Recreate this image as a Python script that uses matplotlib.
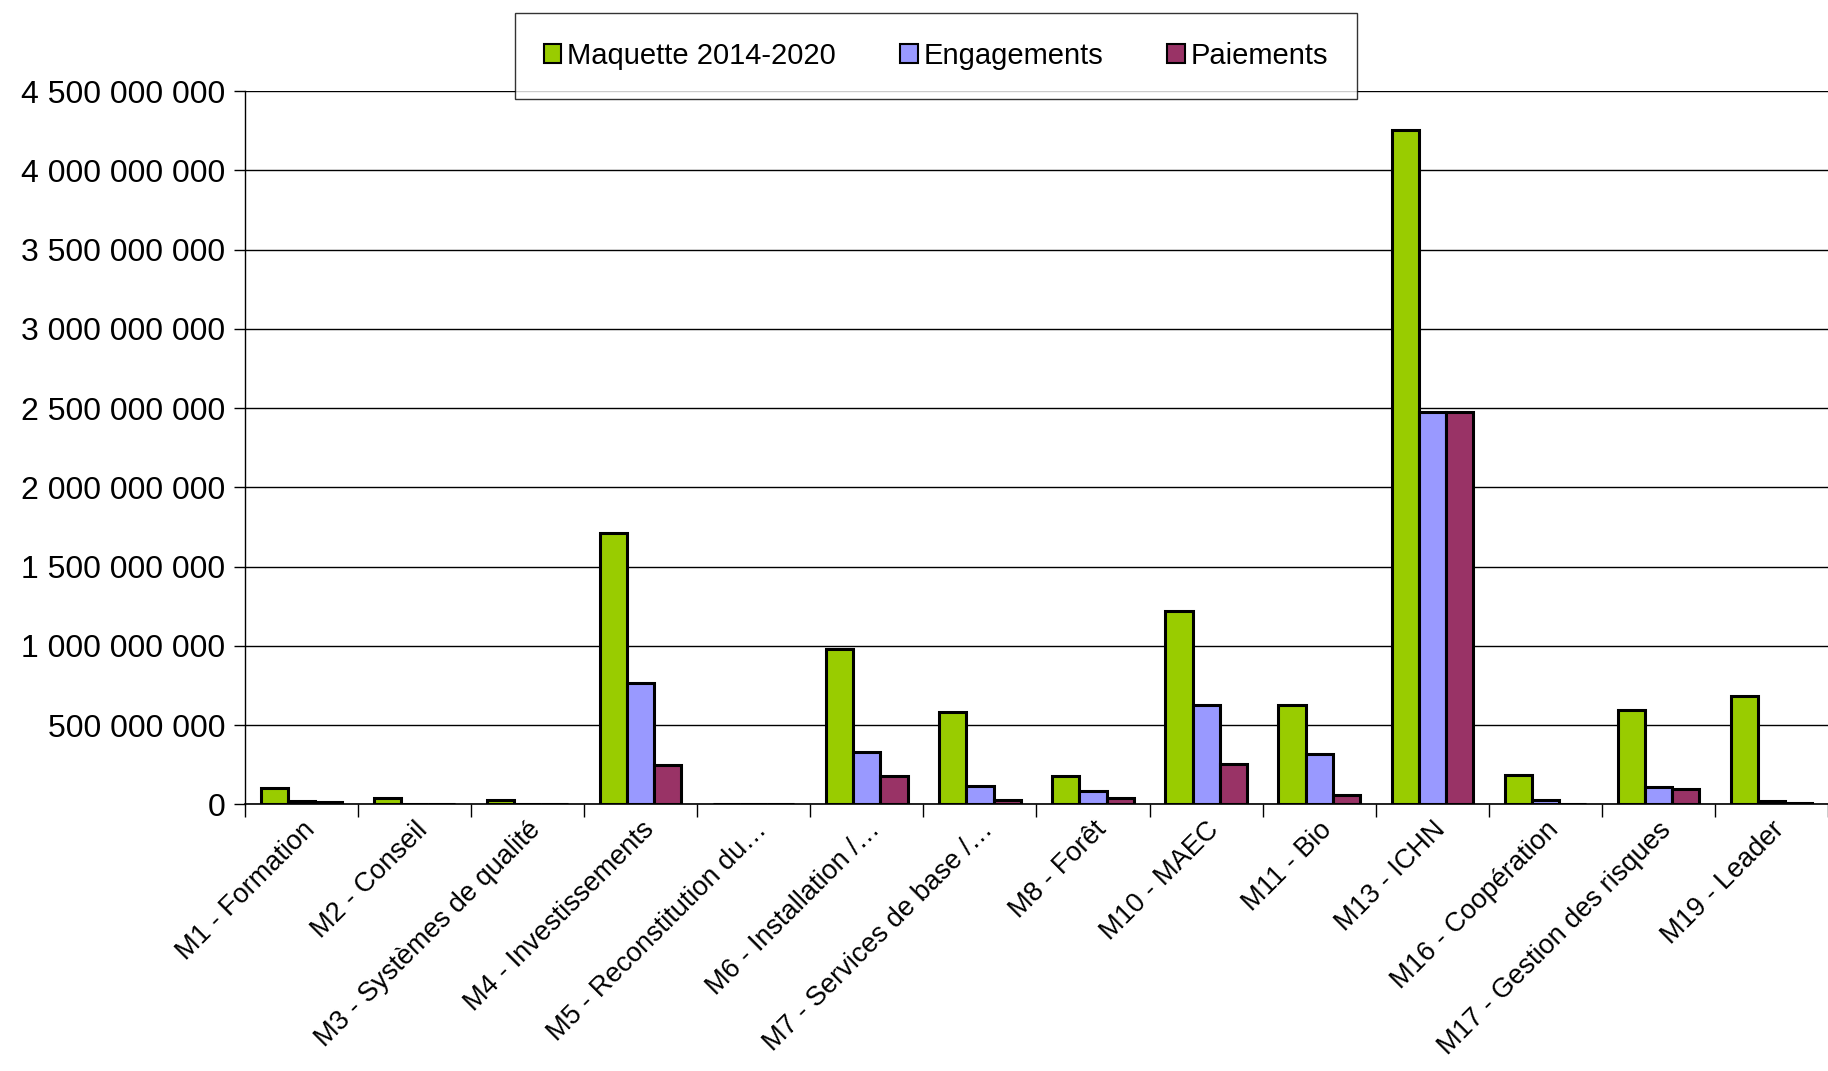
import numpy as np
import matplotlib.pyplot as plt
from matplotlib.ticker import FuncFormatter, FixedLocator

plt.rcParams['font.family'] = ['Liberation Sans', 'DejaVu Sans']

categories = ['M1 - Formation', 'M2 - Conseil', 'M3 - Systèmes de qualité',
              'M4 - Investissements', 'M5 - Reconstitution du…',
              'M6 - Installation /…', 'M7 - Services de base /…',
              'M8 - Forêt', 'M10 - MAEC', 'M11 - Bio', 'M13 - ICHN',
              'M16 - Coopération', 'M17 - Gestion des risques', 'M19 - Leader']

# valeurs en euros
maquette = [103e6, 40e6, 30e6, 1713e6, 3e6, 978e6, 581e6, 176e6,
            1220e6, 625e6, 4255e6, 184e6, 596e6, 684e6]
engagements = [22e6, 0, 5e6, 765e6, 3e6, 331e6, 118e6, 81e6,
               625e6, 316e6, 2478e6, 30e6, 110e6, 22e6]
paiements = [13e6, 0, 5e6, 250e6, 3e6, 176e6, 30e6, 37e6,
             257e6, 59e6, 2478e6, 5e6, 96e6, 8e6]

series = [('Maquette 2014-2020', maquette, '#99CC00'),
          ('Engagements', engagements, '#9999FF'),
          ('Paiements', paiements, '#993366')]

fig = plt.figure(figsize=(18.28, 10.71), dpi=100)
ax = fig.add_axes([0.134, 0.249, 0.866, 0.666])

x = np.arange(len(categories))
w = 0.24
for i, (name, vals, col) in enumerate(series):
    ax.bar(x + (i - 1) * w, vals, w, color=col, edgecolor='black',
           linewidth=2.2, label=name, zorder=3)

ax.set_xlim(-0.5, len(categories) - 0.5)
ax.set_ylim(0, 4.5e9)
ax.set_yticks(np.arange(0, 4.5e9 + 1, 5e8))
ax.yaxis.set_major_formatter(FuncFormatter(lambda v, p: f"{int(v):,}".replace(',', ' ')))
ax.grid(axis='y', color='black', linewidth=1, zorder=0)

ax.set_xticks(x)
ax.set_xticklabels(categories, rotation=45, ha='right', rotation_mode='anchor',
                   fontsize=19.5)
ax.xaxis.set_minor_locator(FixedLocator(np.arange(-0.5, len(categories), 1)))
ax.tick_params(axis='x', which='major', length=0, pad=9)
ax.tick_params(axis='x', which='minor', length=9, width=1, direction='out')
ax.tick_params(axis='y', length=8, width=1, labelsize=23, pad=6)

for s in ['top', 'right']:
    ax.spines[s].set_visible(False)
ax.spines['left'].set_linewidth(1)
ax.spines['bottom'].set_linewidth(1.2)

leg = fig.legend(loc='center', bbox_to_anchor=(0.512, 0.948), ncol=3,
                 fontsize=21, frameon=True, fancybox=False, edgecolor='black',
                 handlelength=0.6, handleheight=0.6, handletextpad=0.2,
                 columnspacing=2.2, borderpad=1.0, borderaxespad=0)
leg.get_frame().set_linewidth(1)
for h in leg.legend_handles:
    h.set_linewidth(1.5)

fig.savefig('out.png', dpi=100)
